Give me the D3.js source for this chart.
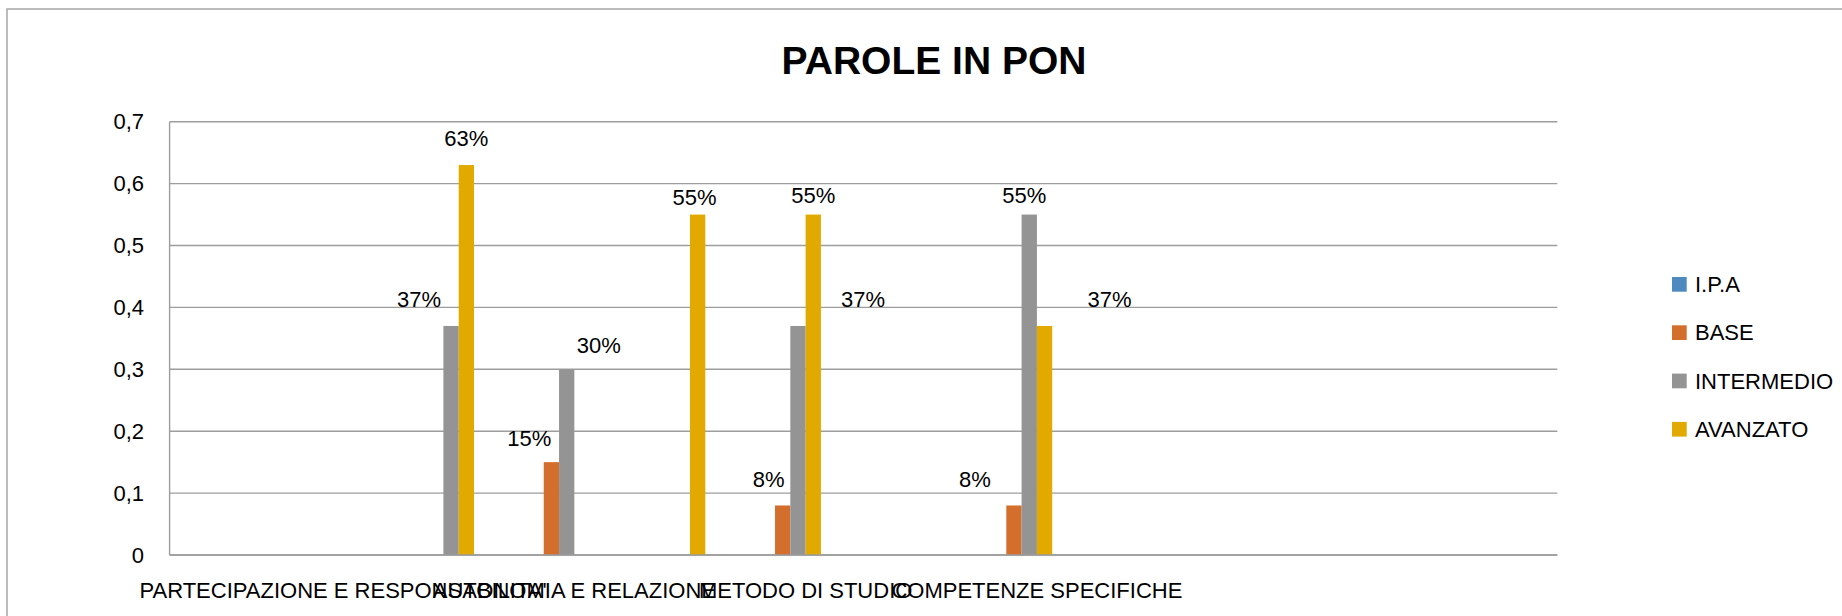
<!DOCTYPE html>
<html>
<head>
<meta charset="utf-8">
<script src="https://cdn.jsdelivr.net/npm/d3@7"></script>
<style>
  html, body { margin: 0; padding: 0; background: #fff; }
  svg { display: block; }
  text { font-family: "Liberation Sans", Arial, sans-serif; fill: #000; }
</style>
</head>
<body>
<svg id="chart" width="1842" height="616"></svg>
<script>
// ---------- data ----------
const title = "PAROLE IN PON";
const categoryIndex = [0,1,2,3,4,5,6,7,8,9,10,11];
const categoryLabels = ["", "PARTECIPAZIONE E RESPONSABILITA'", "", "AUTONOMIA E RELAZIONE", "", "METODO DI STUDIO", "", "COMPETENZE SPECIFICHE", "", "", "", ""];
const seriesNames = ["I.P.A", "BASE", "INTERMEDIO", "AVANZATO"];
const slotKeys = ["I.P.A", "BASE", "INTERMEDIO", "AVANZATO", "s5", "s6"];
const ipaValues        = [null, null, null, null, null, null, null, null, null, null, null, null];
const baseValues       = [null, null, null, 0.15, null, 0.08, null, 0.08, null, null, null, null];
const intermedioValues = [null, null, 0.37, 0.30, null, 0.37, null, 0.55, null, null, null, null];
const avanzatoValues   = [null, null, 0.63, null, 0.55, 0.55, null, 0.37, null, null, null, null];
const yTicks = [0, 0.1, 0.2, 0.3, 0.4, 0.5, 0.6, 0.7];
const yTickLabels = ["0", "0,1", "0,2", "0,3", "0,4", "0,5", "0,6", "0,7"];

// ---------- styles ----------
const colors = {"I.P.A": "#4e89bf", "BASE": "#d46e2c", "INTERMEDIO": "#949494", "AVANZATO": "#e2aa00"};
// per-label nudges (px) to reproduce the original label placement
const labelNudge = {
  "2|INTERMEDIO": [-32, 27], "2|AVANZATO": [0, 27],
  "3|BASE": [-22, 24], "3|INTERMEDIO": [32, 24],
  "4|AVANZATO": [-3, 17],
  "5|BASE": [-14, 26], "5|INTERMEDIO": [65, 27], "5|AVANZATO": [0, 19],
  "7|BASE": [-39, 26], "7|INTERMEDIO": [-5, 19], "7|AVANZATO": [65, 27]
};

const svg = d3.select("#chart");
const plot = {left: 169.6, right: 1557.3, top: 121.7, bottom: 555};

// chart border
svg.append("rect").attr("x", 7).attr("y", 9).attr("width", 1900).attr("height", 700)
  .attr("fill", "none").attr("stroke", "#a6a6a6").attr("stroke-width", 1.5);

// title
svg.append("text").attr("x", 934).attr("y", 74).attr("text-anchor", "middle")
  .style("font-size", "39px").style("font-weight", "bold").text(title);

const x = d3.scaleBand().domain(categoryIndex).range([plot.left, plot.right])
  .paddingInner(0.206).paddingOuter(0.103);
const xs = d3.scaleBand().domain(slotKeys).range([0, x.bandwidth()]).padding(0);
const y = d3.scaleLinear().domain([0, 0.7]).range([plot.bottom, plot.top]);

// gridlines
svg.append("g").selectAll("line").data(yTicks).join("line")
  .attr("x1", plot.left).attr("x2", plot.right)
  .attr("y1", d => y(d)).attr("y2", d => y(d))
  .attr("stroke", "#9d9d9d").attr("stroke-width", 1.4);

// y axis line
svg.append("line").attr("x1", plot.left).attr("x2", plot.left)
  .attr("y1", y(0.7)).attr("y2", y(0)).attr("stroke", "#9d9d9d").attr("stroke-width", 1.4);

// y tick labels
svg.append("g").selectAll("text").data(yTicks).join("text")
  .attr("x", 144).attr("y", d => y(d)).attr("dy", "0.35em")
  .attr("text-anchor", "end").style("font-size", "22px")
  .text((d, i) => yTickLabels[i]);

// bars
const seriesValues = {"I.P.A": ipaValues, "BASE": baseValues, "INTERMEDIO": intermedioValues, "AVANZATO": avanzatoValues};
const bars = [];
categoryIndex.forEach(c => {
  seriesNames.forEach(s => {
    const v = seriesValues[s][c];
    if (v != null) bars.push({c, s, v});
  });
});

svg.append("g").selectAll("rect").data(bars).join("rect")
  .attr("x", d => x(d.c) + xs(d.s))
  .attr("width", xs.bandwidth())
  .attr("y", d => y(d.v))
  .attr("height", d => y(0) - y(d.v))
  .attr("fill", d => colors[d.s]);

// baseline over bars
svg.append("line").attr("x1", plot.left).attr("x2", plot.right)
  .attr("y1", y(0)).attr("y2", y(0)).attr("stroke", "#9d9d9d").attr("stroke-width", 1.4);

// data labels
svg.append("g").selectAll("text").data(bars).join("text")
  .attr("x", d => x(d.c) + xs(d.s) + xs.bandwidth() / 2 + (labelNudge[d.c + "|" + d.s] || [0, 27])[0])
  .attr("y", d => y(d.v) - (labelNudge[d.c + "|" + d.s] || [0, 27])[1])
  .attr("dy", "0.35em").attr("text-anchor", "middle").style("font-size", "22px")
  .text(d => d3.format(".0%")(d.v));

// x category labels
svg.append("g").selectAll("text").data(categoryIndex.filter(i => categoryLabels[i] !== "")).join("text")
  .attr("x", d => x(d) + x.bandwidth() / 2).attr("y", 598)
  .attr("text-anchor", "middle").style("font-size", "22px")
  .text(d => categoryLabels[d]);

// legend
const lg = svg.append("g").attr("transform", "translate(1672,277)");
const li = lg.selectAll("g").data(seriesNames).join("g")
  .attr("transform", (d, i) => `translate(0,${i * 48.3})`);
li.append("rect").attr("width", 14.7).attr("height", 14.7).attr("fill", d => colors[d]);
li.append("text").attr("x", 23).attr("y", 7.4).attr("dy", "0.35em")
  .style("font-size", "22px").text(d => d);
</script>
</body>
</html>
